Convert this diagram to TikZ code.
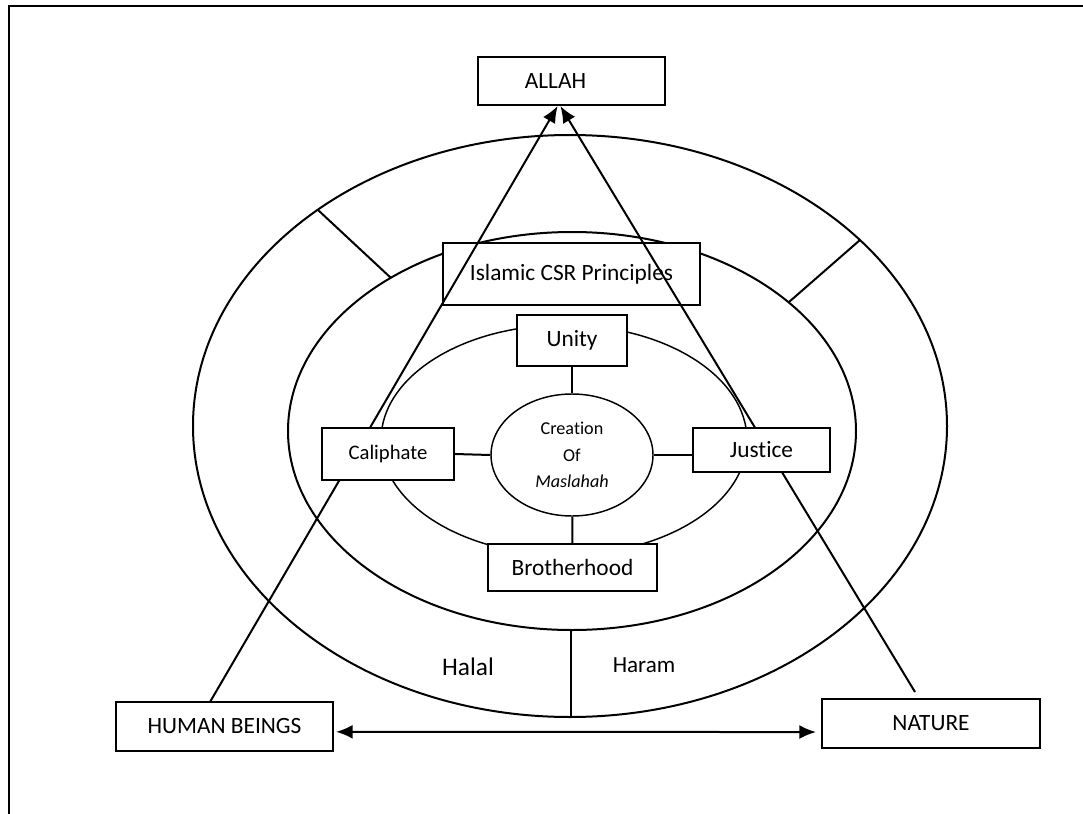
\documentclass[tikz,border=0pt]{standalone}
\usepackage{fontspec}
\setmainfont{Carlito}[Ligatures={CommonOff}]
\usetikzlibrary{arrows.meta,shapes.geometric}

\begin{document}
\begin{tikzpicture}[x=0.75pt,y=-0.75pt]
\tikzset{box/.style = {shape=rectangle,draw,fill=white,line width=1.5pt,
inner sep=0pt,font=\fontsize{17.5}{21}\selectfont}}
\tikzset{edge/.style = {->,> = {Latex[length=12.5pt,width=10.5pt]},line width=1.5pt}}
\tikzset{link/.style = {line width=1.5pt}}
\useasboundingbox (0,0) rectangle (1083,814);
% frame
\draw[line width=1.5pt] (9,830) -- (9,6) -- (1100,6);
% rings
\draw[link] (570,426) ellipse [x radius=377,y radius=291];
\draw[link] (572,431) ellipse [x radius=284,y radius=199];
\draw[line width=1.1pt] (564,440) ellipse [x radius=183,y radius=115];
\draw[link] (318,210) -- (391,278);
\draw[link] (860,240) -- (789,302);
\draw[link] (571,630) -- (571,717);
% vertices
\node[box,minimum width=140.25pt,minimum height=36pt] (allah) at (571.5,81) {ALLAH\hspace*{24pt}};
\node[box,minimum width=192.75pt,minimum height=46.5pt] (csr) at (571.5,274) {Islamic CSR Principles};
\coordinate (hb) at (210,702);
\coordinate (nb) at (915,692);
%edges
\draw[edge] (hb) -- (allah.241.6);
\draw[edge] (nb) -- (allah.246.4);
% vertices
\node[box,minimum width=82.5pt,minimum height=38.25pt] (unity) at (572,340.5) {Unity};
\node[box,minimum width=99pt,minimum height=39pt,font=\fontsize{15.5}{19}\selectfont] (caliphate) at (388,454) {Caliphate};
\node[box,minimum width=102.75pt,minimum height=33pt] (justice) at (761.5,450) {Justice};
\node[box,minimum width=126.75pt,minimum height=35.25pt] (brotherhood) at (572.5,567.5) {Brotherhood};
\node[shape=ellipse,draw,fill=white,line width=1.1pt,inner sep=0pt,minimum width=121.5pt,minimum height=91.5pt,
align=center,font=\fontsize{13.6}{20}\selectfont] (maslahah) at (572,455) {Creation\\Of\\\textit{Maslahah}};
\node[box,minimum width=162.75pt,minimum height=36.75pt] (human) at (224.5,726.5) {HUMAN BEINGS};
\node[box,minimum width=163.5pt,minimum height=36.75pt] (nature) at (931,723.5) {NATURE};
\node[font=\fontsize{19}{23}\selectfont] (halal) at (468,667) {Halal};
\node[font=\fontsize{17.3}{21}\selectfont] (haram) at (644,665) {Haram};
%edges
\draw[link] (unity) -- (maslahah);
\draw[link] (maslahah) -- (brotherhood);
\draw[link] (caliphate.east) -- (maslahah.west);
\draw[link] (maslahah.east) -- (maslahah.east -| justice.west);
\draw[edge,<->] ([yshift=-4pt,xshift=1.5pt]human.east) -- ([yshift=-6.4pt,xshift=-3.75pt]nature.west);
\end{tikzpicture}
\end{document}
